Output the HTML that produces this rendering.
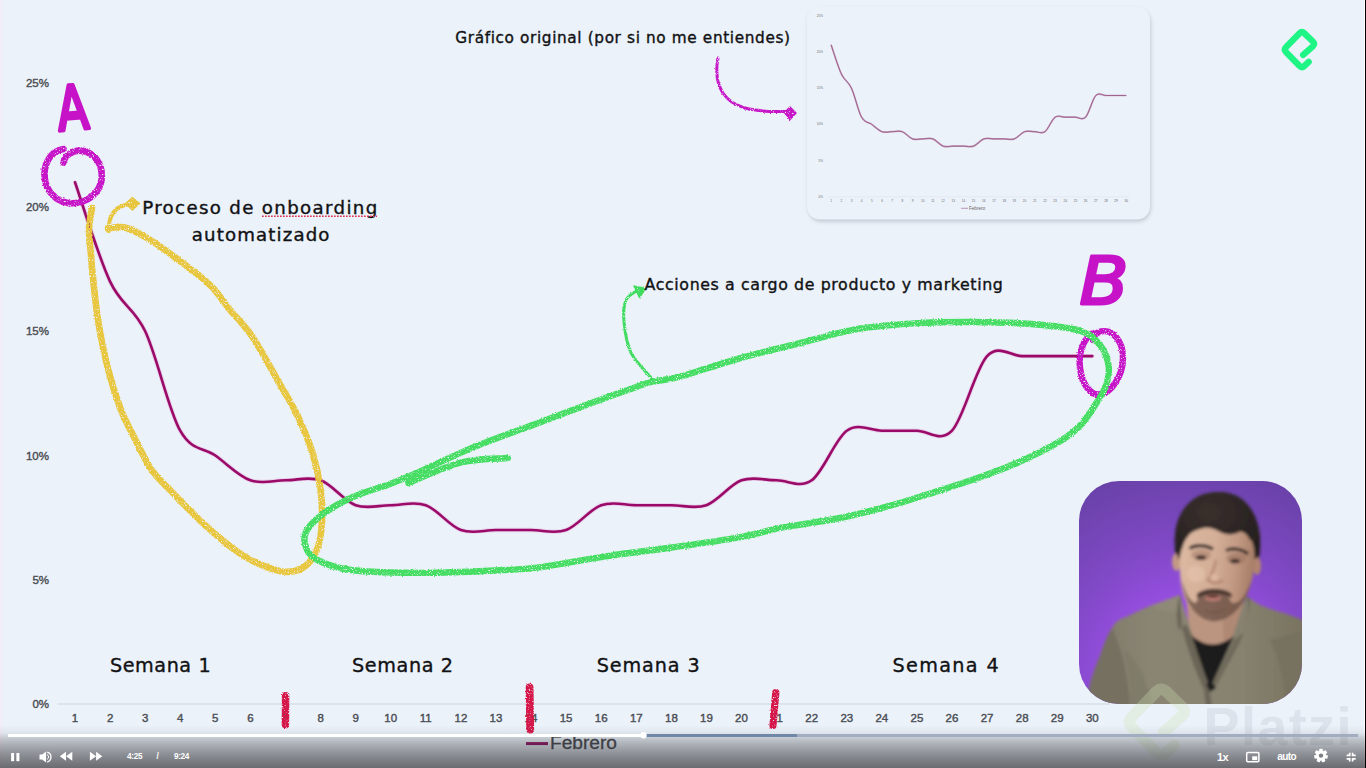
<!DOCTYPE html>
<html lang="es">
<head>
<meta charset="utf-8">
<title>Platzi - Gráfico Febrero</title>
<style>
html,body{margin:0;padding:0;background:#ebf2fa;overflow:hidden}
body{width:1366px;height:768px;position:relative;font-family:"Liberation Sans",sans-serif}
svg{position:absolute;left:0;top:0;display:block}
.hand{font-family:"DejaVu Sans","Liberation Sans",sans-serif;fill:#121214;stroke:#121214;stroke-width:0.38px}
.ax{font-family:"Liberation Sans",sans-serif;font-size:11.5px;fill:#4b4e54;stroke:#4b4e54;stroke-width:0.4px}
.ctl{font-family:"Liberation Sans",sans-serif;fill:#fff;font-weight:bold}
</style>
</head>
<body>
<svg width="1366" height="768" viewBox="0 0 1366 768">
<defs>
<filter id="rough" x="-2%" y="-2%" width="104%" height="104%"><feTurbulence type="fractalNoise" baseFrequency="0.75" numOctaves="2" seed="7" result="n"/><feDisplacementMap in="SourceGraphic" in2="n" scale="2.6" xChannelSelector="R" yChannelSelector="G" result="d"/><feColorMatrix in="n" type="matrix" values="0 0 0 0 0 0 0 0 0 0 0 0 0 0 0 5 0 0 0 -1.05" result="m"/><feComposite in="d" in2="m" operator="in"/></filter>
<filter id="blur1" x="-10%" y="-10%" width="120%" height="120%"><feGaussianBlur stdDeviation="1.6"/></filter>
<filter id="blur3" x="-20%" y="-20%" width="140%" height="140%"><feGaussianBlur stdDeviation="3"/></filter>
<filter id="shadow" x="-10%" y="-10%" width="120%" height="125%"><feGaussianBlur stdDeviation="2.2"/></filter>
<linearGradient id="bar" x1="0" y1="0" x2="0" y2="1"><stop offset="0" stop-color="#3a3a3e" stop-opacity="0"/><stop offset="0.186" stop-color="#3a3a3e" stop-opacity="0.07"/><stop offset="0.3" stop-color="#3a3a3e" stop-opacity="0.22"/><stop offset="0.465" stop-color="#3a3a3e" stop-opacity="0.37"/><stop offset="0.7" stop-color="#3a3a3e" stop-opacity="0.55"/><stop offset="1" stop-color="#3a3a3e" stop-opacity="0.73"/></linearGradient>
<radialGradient id="purple" cx="0.5" cy="0.88" r="0.95"><stop offset="0" stop-color="#aa57f5"/><stop offset="0.3" stop-color="#9d50e8"/><stop offset="0.6" stop-color="#8249c8"/><stop offset="0.85" stop-color="#7245b4"/><stop offset="1" stop-color="#6a41a9"/></radialGradient>
<linearGradient id="skin" x1="0" y1="0" x2="1" y2="0.15"><stop offset="0" stop-color="#dcb9a2"/><stop offset="0.5" stop-color="#d4ae97"/><stop offset="0.78" stop-color="#c29a84"/><stop offset="1" stop-color="#a98069"/></linearGradient>
<linearGradient id="shirt" x1="0" y1="0" x2="1" y2="0"><stop offset="0" stop-color="#7d7867"/><stop offset="0.3" stop-color="#8a8573"/><stop offset="0.7" stop-color="#878270"/><stop offset="1" stop-color="#79745f"/></linearGradient>
<radialGradient id="hairg" cx="0.4" cy="0.3" r="0.7"><stop offset="0" stop-color="#3a302d"/><stop offset="1" stop-color="#241f1e"/></radialGradient>
<clipPath id="pclip"><rect x="1079" y="481" width="223" height="223" rx="40" ry="40"/></clipPath>
</defs>

<!-- background -->
<rect width="1366" height="768" fill="#ebf2fa"/>
<rect x="0" y="0" width="3" height="768" fill="#f4ecf8" opacity="0.8"/>

<!-- mini chart card -->
<g id="mini">
<rect x="808.5" y="9.5" width="342" height="212" rx="13" fill="#9aa0ad" opacity="0.55" filter="url(#shadow)"/>
<rect x="807" y="7" width="343" height="212.5" rx="13" fill="#ecf2fa"/>
<line x1="828" y1="196.8" x2="1130" y2="196.8" stroke="#dfe3ea" stroke-width="0.6"/>
<g font-family="Liberation Sans, sans-serif" font-size="3.1" fill="#666" text-anchor="middle"><text x="831.1" y="202">1</text><text x="841.3" y="202">2</text><text x="851.5" y="202">3</text><text x="861.6" y="202">4</text><text x="871.8" y="202">5</text><text x="882.0" y="202">6</text><text x="892.2" y="202">7</text><text x="902.4" y="202">8</text><text x="912.5" y="202">9</text><text x="922.7" y="202">10</text><text x="932.9" y="202">11</text><text x="943.1" y="202">12</text><text x="953.3" y="202">13</text><text x="963.4" y="202">14</text><text x="973.6" y="202">15</text><text x="983.8" y="202">16</text><text x="994.0" y="202">17</text><text x="1004.2" y="202">18</text><text x="1014.3" y="202">19</text><text x="1024.5" y="202">20</text><text x="1034.7" y="202">21</text><text x="1044.9" y="202">22</text><text x="1055.1" y="202">23</text><text x="1065.2" y="202">24</text><text x="1075.4" y="202">25</text><text x="1085.6" y="202">26</text><text x="1095.8" y="202">27</text><text x="1106.0" y="202">28</text><text x="1116.1" y="202">29</text><text x="1126.3" y="202">30</text></g>
<g font-family="Liberation Sans, sans-serif" font-size="3.1" fill="#666" text-anchor="end"><text x="823" y="197.8">0%</text><text x="823" y="161.6">5%</text><text x="823" y="125.4">10%</text><text x="823" y="89.3">15%</text><text x="823" y="53.1">20%</text><text x="823" y="16.9">25%</text></g>
<path d="M831.1 44.8 C832.8 49.7 837.9 66.6 841.3 73.8 C844.7 81.0 848.1 81.0 851.5 88.3 C854.9 95.5 858.2 111.2 861.6 117.2 C865.0 123.2 868.4 122.0 871.8 124.4 C875.2 126.9 878.6 130.5 882.0 131.7 C885.4 132.9 888.8 131.7 892.2 131.7 C895.6 131.7 899.0 130.5 902.4 131.7 C905.8 132.9 909.1 137.7 912.5 138.9 C915.9 140.1 919.3 138.9 922.7 138.9 C926.1 138.9 929.5 137.7 932.9 138.9 C936.3 140.1 939.7 144.9 943.1 146.1 C946.5 147.4 949.9 146.1 953.3 146.1 C956.7 146.1 960.0 146.1 963.4 146.1 C966.8 146.1 970.2 147.4 973.6 146.1 C977.0 144.9 980.4 140.1 983.8 138.9 C987.2 137.7 990.6 138.9 994.0 138.9 C997.4 138.9 1000.8 138.9 1004.2 138.9 C1007.6 138.9 1010.9 140.1 1014.3 138.9 C1017.7 137.7 1021.1 132.9 1024.5 131.7 C1027.9 130.5 1031.3 131.7 1034.7 131.7 C1038.1 131.7 1041.5 134.1 1044.9 131.7 C1048.3 129.3 1051.7 119.6 1055.1 117.2 C1058.5 114.8 1061.8 117.2 1065.2 117.2 C1068.6 117.2 1072.0 117.2 1075.4 117.2 C1078.8 117.2 1082.2 120.8 1085.6 117.2 C1089.0 113.6 1092.4 99.1 1095.8 95.5 C1099.2 91.9 1102.6 95.5 1106.0 95.5 C1109.4 95.5 1112.7 95.5 1116.1 95.5 C1119.5 95.5 1124.6 95.5 1126.3 95.5" fill="none" stroke="#c59aba" stroke-width="1.7" stroke-linejoin="round"/><path d="M831.1 44.8 C832.8 49.7 837.9 66.6 841.3 73.8 C844.7 81.0 848.1 81.0 851.5 88.3 C854.9 95.5 858.2 111.2 861.6 117.2 C865.0 123.2 868.4 122.0 871.8 124.4 C875.2 126.9 878.6 130.5 882.0 131.7 C885.4 132.9 888.8 131.7 892.2 131.7 C895.6 131.7 899.0 130.5 902.4 131.7 C905.8 132.9 909.1 137.7 912.5 138.9 C915.9 140.1 919.3 138.9 922.7 138.9 C926.1 138.9 929.5 137.7 932.9 138.9 C936.3 140.1 939.7 144.9 943.1 146.1 C946.5 147.4 949.9 146.1 953.3 146.1 C956.7 146.1 960.0 146.1 963.4 146.1 C966.8 146.1 970.2 147.4 973.6 146.1 C977.0 144.9 980.4 140.1 983.8 138.9 C987.2 137.7 990.6 138.9 994.0 138.9 C997.4 138.9 1000.8 138.9 1004.2 138.9 C1007.6 138.9 1010.9 140.1 1014.3 138.9 C1017.7 137.7 1021.1 132.9 1024.5 131.7 C1027.9 130.5 1031.3 131.7 1034.7 131.7 C1038.1 131.7 1041.5 134.1 1044.9 131.7 C1048.3 129.3 1051.7 119.6 1055.1 117.2 C1058.5 114.8 1061.8 117.2 1065.2 117.2 C1068.6 117.2 1072.0 117.2 1075.4 117.2 C1078.8 117.2 1082.2 120.8 1085.6 117.2 C1089.0 113.6 1092.4 99.1 1095.8 95.5 C1099.2 91.9 1102.6 95.5 1106.0 95.5 C1109.4 95.5 1112.7 95.5 1116.1 95.5 C1119.5 95.5 1124.6 95.5 1126.3 95.5" fill="none" stroke="#8d4f7c" stroke-width="0.7" stroke-linejoin="round"/>
<line x1="961" y1="208.3" x2="968" y2="208.3" stroke="#a8709a" stroke-width="0.7"/>
<text x="969" y="209.8" font-family="Liberation Sans, sans-serif" font-size="4.6" fill="#666">Febrero</text>
</g>

<!-- main chart axes -->
<line x1="57.5" y1="704" x2="1110" y2="704" stroke="#cfd3da" stroke-width="1.2"/>
<g class="ax" text-anchor="middle"><text x="75.0" y="721.7">1</text><text x="110.1" y="721.7">2</text><text x="145.2" y="721.7">3</text><text x="180.2" y="721.7">4</text><text x="215.3" y="721.7">5</text><text x="250.4" y="721.7">6</text><text x="285.5" y="721.7">7</text><text x="320.6" y="721.7">8</text><text x="355.6" y="721.7">9</text><text x="390.7" y="721.7">10</text><text x="425.8" y="721.7">11</text><text x="460.9" y="721.7">12</text><text x="496.0" y="721.7">13</text><text x="531.0" y="721.7">14</text><text x="566.1" y="721.7">15</text><text x="601.2" y="721.7">16</text><text x="636.3" y="721.7">17</text><text x="671.4" y="721.7">18</text><text x="706.4" y="721.7">19</text><text x="741.5" y="721.7">20</text><text x="776.6" y="721.7">21</text><text x="811.7" y="721.7">22</text><text x="846.8" y="721.7">23</text><text x="881.8" y="721.7">24</text><text x="916.9" y="721.7">25</text><text x="952.0" y="721.7">26</text><text x="987.1" y="721.7">27</text><text x="1022.2" y="721.7">28</text><text x="1057.2" y="721.7">29</text><text x="1092.3" y="721.7">30</text></g>
<g class="ax" text-anchor="end"><text x="49" y="708.0">0%</text><text x="49" y="583.8">5%</text><text x="49" y="459.6">10%</text><text x="49" y="335.4">15%</text><text x="49" y="211.2">20%</text><text x="49" y="87.0">25%</text></g>
<line x1="526" y1="743.6" x2="548" y2="743.6" stroke="#8e0a60" stroke-width="3"/>
<text x="550" y="749.3" font-family="Liberation Sans, sans-serif" font-size="17.5" fill="#3f4146" stroke="#3f4146" stroke-width="0.3" textLength="67" lengthAdjust="spacingAndGlyphs">Febrero</text>

<!-- data line -->
<path d="M75.0 182.3 C80.8 198.8 98.4 256.8 110.1 281.6 C121.8 306.5 133.5 306.5 145.2 331.3 C156.9 356.1 168.5 410.0 180.2 430.7 C191.9 451.4 203.6 447.2 215.3 455.5 C227.0 463.8 238.7 476.2 250.4 480.3 C262.1 484.5 273.8 480.3 285.5 480.3 C297.2 480.3 308.9 476.2 320.6 480.3 C332.3 484.5 343.9 501.0 355.6 505.2 C367.3 509.3 379.0 505.2 390.7 505.2 C402.4 505.2 414.1 501.0 425.8 505.2 C437.5 509.3 449.2 525.9 460.9 530.0 C472.6 534.2 484.3 530.0 496.0 530.0 C507.7 530.0 519.3 530.0 531.0 530.0 C542.7 530.0 554.4 534.2 566.1 530.0 C577.8 525.9 589.5 509.3 601.2 505.2 C612.9 501.0 624.6 505.2 636.3 505.2 C648.0 505.2 659.7 505.2 671.4 505.2 C683.1 505.2 694.7 509.3 706.4 505.2 C718.1 501.0 729.8 484.5 741.5 480.3 C753.2 476.2 764.9 480.3 776.6 480.3 C788.3 480.3 800.0 488.6 811.7 480.3 C823.4 472.1 835.1 438.9 846.8 430.7 C858.5 422.4 870.1 430.7 881.8 430.7 C893.5 430.7 905.2 430.7 916.9 430.7 C928.6 430.7 940.3 443.1 952.0 430.7 C963.7 418.2 975.4 368.6 987.1 356.1 C998.8 343.7 1010.5 356.1 1022.2 356.1 C1033.9 356.1 1045.5 356.1 1057.2 356.1 C1068.9 356.1 1086.5 356.1 1092.3 356.1" fill="none" stroke="#e59ad0" stroke-opacity="0.35" stroke-width="4.4" stroke-linejoin="round" stroke-linecap="round"/>
<path d="M75.0 182.3 C80.8 198.8 98.4 256.8 110.1 281.6 C121.8 306.5 133.5 306.5 145.2 331.3 C156.9 356.1 168.5 410.0 180.2 430.7 C191.9 451.4 203.6 447.2 215.3 455.5 C227.0 463.8 238.7 476.2 250.4 480.3 C262.1 484.5 273.8 480.3 285.5 480.3 C297.2 480.3 308.9 476.2 320.6 480.3 C332.3 484.5 343.9 501.0 355.6 505.2 C367.3 509.3 379.0 505.2 390.7 505.2 C402.4 505.2 414.1 501.0 425.8 505.2 C437.5 509.3 449.2 525.9 460.9 530.0 C472.6 534.2 484.3 530.0 496.0 530.0 C507.7 530.0 519.3 530.0 531.0 530.0 C542.7 530.0 554.4 534.2 566.1 530.0 C577.8 525.9 589.5 509.3 601.2 505.2 C612.9 501.0 624.6 505.2 636.3 505.2 C648.0 505.2 659.7 505.2 671.4 505.2 C683.1 505.2 694.7 509.3 706.4 505.2 C718.1 501.0 729.8 484.5 741.5 480.3 C753.2 476.2 764.9 480.3 776.6 480.3 C788.3 480.3 800.0 488.6 811.7 480.3 C823.4 472.1 835.1 438.9 846.8 430.7 C858.5 422.4 870.1 430.7 881.8 430.7 C893.5 430.7 905.2 430.7 916.9 430.7 C928.6 430.7 940.3 443.1 952.0 430.7 C963.7 418.2 975.4 368.6 987.1 356.1 C998.8 343.7 1010.5 356.1 1022.2 356.1 C1033.9 356.1 1045.5 356.1 1057.2 356.1 C1068.9 356.1 1086.5 356.1 1092.3 356.1" fill="none" stroke="#9a0a68" stroke-width="2.6" stroke-linejoin="round" stroke-linecap="round"/>

<!-- annotations -->
<g fill="none" stroke-linecap="round" stroke-linejoin="round" filter="url(#rough)">
<!-- magenta circles -->
<path d="M63.5 149 C50 151 42.5 165 45 180 C48 196 62 205 76 203 C93 201 104 187 101.5 171 C99 156 86 148 74 151.5 C68 153.5 64 158 63.5 162.5" stroke="#c713c8" stroke-width="6.6"/>
<path d="M1093 333 C1084 338 1078 352 1080 368 C1082 384 1090 395 1099 394.5 C1111 393.5 1123 376 1123 358 C1123 341 1113 329 1101 331.5 C1096 332.5 1093 336 1093 340" stroke="#c713c8" stroke-width="6.4"/>
<path d="M92.0 208.0 C91.7 210.0 90.5 216.0 90.0 220.0 C89.5 224.0 88.8 226.2 89.0 232.0 C89.2 237.8 90.4 248.2 91.0 255.0 C91.6 261.8 91.3 262.2 92.5 273.0 C93.7 283.8 95.5 304.3 98.0 320.0 C100.5 335.7 103.8 352.4 107.5 367.0 C111.2 381.6 115.8 396.2 120.0 407.5 C124.2 418.8 127.8 424.7 133.0 435.0 C138.2 445.3 145.2 460.3 151.4 469.5 C157.6 478.7 160.9 480.6 170.0 490.0 C179.1 499.4 193.8 515.1 206.0 526.0 C218.2 536.9 230.7 548.0 243.0 555.5 C255.3 563.0 269.8 568.8 279.6 571.0 C289.4 573.2 295.5 571.7 301.6 568.5 C307.7 565.3 312.6 559.1 316.0 552.0 C319.4 544.9 320.9 536.3 321.7 526.0 C322.5 515.7 322.1 502.2 320.6 490.0 C319.1 477.8 316.4 465.2 312.6 453.0 C308.8 440.8 303.5 428.2 298.0 416.6 C292.5 405.1 287.1 396.9 279.6 383.7 C272.1 370.5 261.2 349.8 252.9 337.5 C244.6 325.2 237.1 318.6 230.0 310.0 C222.9 301.4 219.0 293.8 210.6 285.6 C202.2 277.4 189.8 268.5 179.4 260.6 C169.0 252.8 157.1 244.0 148.0 238.5 C138.9 233.0 131.7 229.2 125.0 227.5 C118.3 225.8 110.8 228.3 108.0 228.5" stroke="#e8c63e" stroke-width="6.6"/>
<path d="M108.5 231.0 C108.8 228.8 108.9 221.8 110.5 218.0 C112.1 214.2 114.6 210.4 118.0 208.0 C121.4 205.6 128.8 204.2 131.0 203.5" stroke="#e8c63e" stroke-width="4"/>
<path d="M125.5 203.5 L132.5 197.5 L139.5 203.5 L132.5 210 Z" fill="#e7c53d" stroke="#e7c53d" stroke-width="1.5"/>
<path d="M507.9 458.0 C500.1 458.8 477.6 458.3 461.0 462.5 C444.4 466.7 417.1 479.6 408.3 483.0 M417.1 472.8 C426.9 468.4 456.2 454.4 475.7 446.4 C495.2 438.3 514.8 431.8 534.3 424.5 C553.8 417.2 577.2 408.2 592.8 402.5 C608.4 396.8 618.0 393.4 627.8 390.0 C637.6 386.6 642.7 384.2 651.4 382.0 C660.1 379.8 665.5 380.6 680.0 376.7 C694.5 372.8 719.1 364.1 738.6 358.6 C758.1 353.1 777.6 348.8 797.1 343.9 C816.6 339.0 836.2 332.7 855.7 329.3 C875.2 325.9 894.8 324.6 914.3 323.4 C933.8 322.2 953.3 321.9 972.8 322.0 C992.3 322.1 1013.5 322.6 1031.4 324.0 C1049.3 325.4 1068.6 327.2 1080.0 330.7 C1091.4 334.2 1095.2 339.3 1100.0 345.0 C1104.8 350.7 1107.4 358.4 1108.5 365.0 C1109.6 371.6 1108.4 378.2 1106.5 384.4 C1104.6 390.6 1101.2 395.4 1097.0 402.0 C1092.8 408.6 1087.8 417.4 1081.6 424.0 C1075.4 430.6 1070.6 434.9 1059.6 441.5 C1048.6 448.1 1030.3 457.1 1015.7 463.5 C1001.1 469.9 986.4 474.9 971.8 480.0 C957.2 485.1 942.5 489.6 927.9 494.2 C913.2 498.8 898.5 503.4 883.9 507.4 C869.2 511.4 857.0 514.6 840.0 518.0 C823.0 521.4 798.6 524.4 781.6 527.7 C764.6 531.0 756.0 534.3 737.7 537.6 C719.4 540.9 693.8 544.4 671.8 547.5 C649.8 550.6 627.9 553.0 605.9 556.3 C583.9 559.6 557.8 565.0 540.0 567.3 C522.2 569.6 518.2 569.4 499.2 570.3 C480.2 571.2 450.4 572.9 426.0 572.9 C401.6 572.9 371.1 572.5 352.8 570.3 C334.5 568.0 324.1 563.7 316.2 559.4 C308.3 555.1 306.7 549.6 305.2 544.7 C303.7 539.8 303.9 535.2 307.0 530.0 C310.1 524.8 315.9 519.1 323.5 513.6 C331.1 508.1 341.7 501.9 352.8 497.0 C363.9 492.1 379.3 488.0 390.0 484.0 C400.7 480.0 412.6 474.7 417.1 472.8" stroke="#45dd62" stroke-width="6.4"/>
<path d="M651.7 378.4 C648.2 374.0 635.4 361.8 630.8 352.3 C626.2 342.8 624.8 330.2 624.0 321.5 C623.2 312.8 623.7 305.2 626.0 300.0 C628.3 294.8 636.0 291.7 638.0 290.0" stroke="#41dc5e" stroke-width="3"/>
<path d="M634 286 L645.5 288.5 L639.5 297.5 Z" fill="#41dc5e" stroke="#41dc5e" stroke-width="1.5"/>
<!-- magenta arrow to mini chart -->
<path d="M718 58 C715 74 717 88 727 98 C738 109 756 112 786 111.5" stroke="#c713c8" stroke-width="3"/>
<path d="M784.5 112.5 L790 107 L796 113 L790 119.5 Z" fill="#c713c8" stroke="#c713c8" stroke-width="1.5"/>
<!-- red week marks -->
<path d="M285.6 695.7 L285.4 724.6" stroke="#d6134a" stroke-width="7.4"/>
<path d="M529.6 687.5 L530.2 729.5" stroke="#d6134a" stroke-width="7.8"/>
<path d="M775.8 692.6 L773 725.5" stroke="#d6134a" stroke-width="7.2"/>
</g>

<!-- A / B letters -->
<text x="57" y="129.5" font-family="DejaVu Sans, Liberation Sans, sans-serif" font-size="61" fill="#c713c8" stroke="#c713c8" stroke-width="4" stroke-linejoin="round" textLength="31" lengthAdjust="spacingAndGlyphs" transform="rotate(-5 73 108)">A</text>
<text x="1079.5" y="303.5" font-family="DejaVu Sans, Liberation Sans, sans-serif" font-style="italic" font-size="66" fill="#c713c8" stroke="#c713c8" stroke-width="2.8" stroke-linejoin="round" textLength="49" lengthAdjust="spacingAndGlyphs">B</text>

<!-- handwritten captions -->
<g class="hand">
<text x="455.3" y="43.4" font-size="15.3" textLength="334.7" lengthAdjust="spacing">Gráfico original (por si no me entiendes)</text>
<text x="142.2" y="213.9" font-size="18.2" textLength="235" lengthAdjust="spacing">Proceso de onboarding</text>
<text x="191.8" y="240.6" font-size="18.2" textLength="137.7" lengthAdjust="spacing">automatizado</text>
<text x="644.6" y="289.8" font-size="15.8" textLength="358.2" lengthAdjust="spacing">Acciones a cargo de producto y marketing</text>
<text x="109.9" y="671.6" font-size="19.2" textLength="100.7" lengthAdjust="spacing">Semana 1</text>
<text x="352" y="671.6" font-size="19.2" textLength="101" lengthAdjust="spacing">Semana 2</text>
<text x="596.7" y="671.6" font-size="19.2" textLength="103" lengthAdjust="spacing">Semana 3</text>
<text x="892.4" y="671.6" font-size="19.2" textLength="106.3" lengthAdjust="spacing">Semana 4</text>
</g>
<line x1="262" y1="216.3" x2="377" y2="216.3" stroke="#dc3550" stroke-width="1.5" stroke-dasharray="1.7 1.3"/>

<!-- platzi logo -->
<path d="M1303.12 54.98 L1312.79 46.40 Q1315.48 44.01 1312.88 41.52 L1304.42 33.39 Q1301.83 30.90 1299.32 33.48 L1286.17 47.02 Q1283.66 49.60 1286.17 52.18 L1299.32 65.72 Q1301.83 68.31 1304.45 65.84 L1308.71 61.85" fill="none" stroke="#1ff584" stroke-width="6.3" stroke-linecap="round" stroke-linejoin="round"/>

<!-- presenter -->
<g clip-path="url(#pclip)">
<rect x="1079" y="481" width="223" height="223" fill="url(#purple)"/>
<g filter="url(#blur1)">
<!-- hair back -->
<path d="M1176 560 C1172 534 1176 508 1198 496.5 C1212 490 1232 490 1244 501 C1258 514 1264 536 1258 564 L1240 580 L1190 580 Z" fill="url(#hairg)"/>
<!-- ears -->
<ellipse cx="1176.5" cy="562" rx="4.5" ry="9" fill="#c39884"/>
<ellipse cx="1257" cy="566" rx="4" ry="9" fill="#b08470"/>
<!-- neck -->
<path d="M1186 596 L1244 596 L1238 642 L1210 656 L1190 640 Z" fill="#bb9580"/>
<path d="M1222 610 L1244 600 L1238 642 L1224 648 Z" fill="#a8826e" opacity="0.6"/>
<!-- shirt -->
<path d="M1086 706 C1088 690 1092 674 1100 656 C1104 644 1108 634 1112 628 C1116 621 1120 619 1126 617 C1136 612 1144 608 1151 605.4 C1160 602 1170 599 1180 595 L1192 634 L1209 686 L1232 638 L1246 596 C1252 600 1256 603 1261 605.4 C1270 609 1280 612 1286.5 613.8 C1292 616 1298 618 1304 621 L1304 708 L1086 708 Z" fill="url(#shirt)"/>
<path d="M1086 706 C1088 690 1092 674 1100 656 C1104 644 1108 634 1112 628 C1118 640 1128 668 1130 706 Z" fill="#757060"/>
<path d="M1130 706 C1132 690 1128 668 1124 650 C1140 660 1150 690 1152 706 Z" fill="#7c7766" opacity="0.7"/>
<path d="M1270 640 C1280 660 1286 690 1284 706 L1304 706 L1304 630 Z" fill="#77725f"/>
<path d="M1151 606 C1160 602 1170 599 1180 595 L1184 612 C1170 612 1160 610 1151 606 Z" fill="#8f8a78"/>
<!-- black tee -->
<path d="M1190 634 C1204 647 1218 648 1234 636 L1210 689 Z" fill="#1c1b1e"/>
<!-- collar folds -->
<path d="M1180 595 C1176 606 1176 620 1179 630 L1186 624 L1192 636 L1209 688 L1212 706 L1206 706 L1204 690 C1194 668 1186 644 1182 628 Z" fill="#6a6557"/>
<path d="M1246 596 C1250 606 1248 622 1244 632 L1234 640 L1211 688 L1214 690 L1238 646 C1246 630 1250 612 1250 598 Z" fill="#6e695a"/>
<path d="M1206 684 L1212 682 L1216 688 L1210 692 Z" fill="#1a1a1c"/>
<!-- face -->
<path d="M1180 548 C1180 536 1190 527 1204 527 L1236 528 C1248 530 1254 540 1254.5 554 C1255 570 1252 584 1247 594 C1242 606 1230 618 1214 620.5 C1200 620 1188 608 1184 596 C1180 584 1179 566 1180 548 Z" fill="url(#skin)"/>
<!-- eye socket shadows -->
<ellipse cx="1201" cy="555" rx="10" ry="5.5" fill="#a57c69" opacity="0.55"/>
<ellipse cx="1236" cy="558.5" rx="9.5" ry="5.5" fill="#9b7361" opacity="0.6"/>
<!-- cheeks highlight -->
<ellipse cx="1196" cy="574" rx="9" ry="8" fill="#e6c4ad" opacity="0.6"/>
<!-- beard -->
<path d="M1182 580 C1184 604 1197 620 1214 621.5 C1232 620 1247 604 1251 580 C1246 596 1240 604 1232 603 C1228 596 1226 592 1222 591 L1204 591 C1200 592 1198 598 1196 603 C1190 602 1186 594 1182 580 Z" fill="#5f473b" opacity="0.72"/>
<path d="M1203 608 C1208 612 1220 612 1226 607 C1224 616 1206 617 1203 608 Z" fill="#6f5547" opacity="0.5"/>
<path d="M1196.5 594.5 C1203 587 1224 587 1232 594 L1231.5 598 C1224 592.5 1206 592 1197.5 598.5 Z" fill="#4a362e"/>
<ellipse cx="1213" cy="598" rx="8" ry="3" fill="#c28078"/>
<ellipse cx="1213" cy="596.6" rx="6" ry="1.5" fill="#5a2f2c"/>
<!-- brows / eyes / nose -->
<path d="M1189.5 548.5 C1196 544 1206 545 1213 549" stroke="#2f2624" stroke-width="3.2" fill="none"/>
<path d="M1226 550.5 C1233 547.5 1242 549 1248 554" stroke="#2f2624" stroke-width="3.2" fill="none"/>
<ellipse cx="1201" cy="557.5" rx="5.2" ry="2.3" fill="#3e2e29"/>
<ellipse cx="1235" cy="561" rx="4.8" ry="2.3" fill="#3e2e29"/>
<path d="M1216 560 C1214 570 1211 576 1208 580 C1212 584 1219 584 1223 580" stroke="#b2866f" stroke-width="2.6" fill="none" opacity="0.9"/>
<ellipse cx="1214" cy="577" rx="4" ry="3" fill="#e2bea8" opacity="0.7"/>
<!-- hair fringe -->
<path d="M1176 552 C1172 530 1178 508 1198 496.5 C1212 490 1232 490 1244 501 C1258 514 1264 536 1256 560 C1255 548 1253 540 1250 540 C1246 532 1242 531 1239 532 C1232 536 1226 534 1222 533 C1214 528 1208 527 1204 528 C1198 529 1194 531 1191 533 C1186 538 1184 542 1183 546 C1181 550 1180 556 1179 560 Z" fill="url(#hairg)"/>
</g>
</g>

<!-- watermark -->
<g opacity="0.3">
<g transform="translate(1157 722) scale(1.89) translate(-1299.6 -49.6)"><path d="M1303.12 54.98 L1312.79 46.40 Q1315.48 44.01 1312.88 41.52 L1304.42 33.39 Q1301.83 30.90 1299.32 33.48 L1286.17 47.02 Q1283.66 49.60 1286.17 52.18 L1299.32 65.72 Q1301.83 68.31 1304.45 65.84 L1308.71 61.85" fill="none" stroke="#cfe3b4" stroke-width="6" stroke-linecap="round" stroke-linejoin="round"/></g>
</g>
<text x="1203.5" y="744.7" font-family="Liberation Sans, sans-serif" font-weight="bold" font-size="54" fill="#c3c9d4" opacity="0.36" textLength="148" lengthAdjust="spacing">Platzi</text>

<rect x="1364" y="0" width="1" height="768" fill="#ffffff"/>
<!-- control bar -->
<rect x="0" y="725" width="1366" height="43" fill="url(#bar)"/>
<rect x="8" y="734" width="1350" height="3" fill="#a3adc2"/>
<rect x="8" y="734" width="789" height="3" fill="#7187a8"/>
<rect x="8" y="734" width="636" height="3" fill="#fff"/>
<circle cx="643.5" cy="735.3" r="3.2" fill="#fff"/>
<g fill="#fff">
<rect x="11.1" y="753" width="3" height="8.2"/><rect x="16.4" y="753" width="3" height="8.2"/>
<path d="M39.5 754.6 h2.6 l4 -3 v10.8 l-4 -3 h-2.6 Z"/>
<path d="M47.2 752 a5.2 5.2 0 0 1 0 10" fill="none" stroke="#fff" stroke-width="1.3"/>
<path d="M47 754.6 a2.6 2.6 0 0 1 0 4.8" fill="none" stroke="#fff" stroke-width="1"/>
<path d="M66 751.8 v9 l-6.2 -4.5 Z M72.3 751.8 v9 l-6.2 -4.5 Z"/>
<path d="M89.9 751.8 v9 l6.2 -4.5 Z M96.1 751.8 v9 l6.2 -4.5 Z"/>
</g>
<g class="ctl">
<text x="127" y="759" font-size="8.2" textLength="15.6" lengthAdjust="spacing">4:25</text>
<text x="156.4" y="759" font-size="8.2">/</text>
<text x="174" y="759" font-size="8.2" textLength="15.3" lengthAdjust="spacing">9:24</text>
<text x="1217" y="761" font-size="11" textLength="11.6" lengthAdjust="spacing">1x</text>
<text x="1277.3" y="760.3" font-size="10" textLength="19.2" lengthAdjust="spacing">auto</text>
</g>
<!-- pip -->
<rect x="1246.7" y="752.4" width="12.2" height="9.4" rx="1.2" fill="none" stroke="#fff" stroke-width="1.5"/>
<rect x="1252.2" y="756.3" width="5.1" height="3.9" fill="#fff"/>
<!-- gear -->
<g transform="translate(1321 755.6)" fill="#fff">
<circle r="5"/>
<rect x="-1.8" y="-6.9" width="3.6" height="6.9" rx="0.9" transform="rotate(0.00)"/><rect x="-1.8" y="-6.9" width="3.6" height="6.9" rx="0.9" transform="rotate(51.43)"/><rect x="-1.8" y="-6.9" width="3.6" height="6.9" rx="0.9" transform="rotate(102.86)"/><rect x="-1.8" y="-6.9" width="3.6" height="6.9" rx="0.9" transform="rotate(154.29)"/><rect x="-1.8" y="-6.9" width="3.6" height="6.9" rx="0.9" transform="rotate(205.71)"/><rect x="-1.8" y="-6.9" width="3.6" height="6.9" rx="0.9" transform="rotate(257.14)"/><rect x="-1.8" y="-6.9" width="3.6" height="6.9" rx="0.9" transform="rotate(308.57)"/>
<circle r="2.2" fill="#7d7e83"/>
</g>
<!-- exit fullscreen -->
<g fill="none" stroke="#fff" stroke-width="1.7">
<path d="M1346.6 755.4 h3.1 v-2.6 M1355.7 755.4 h-3.1 v-2.6 M1346.6 758.8 h3.1 v2.6 M1355.7 758.8 h-3.1 v2.6"/>
</g>
<rect x="1365" y="0" width="1" height="768" fill="#000000"/>
</svg>
</body>
</html>
